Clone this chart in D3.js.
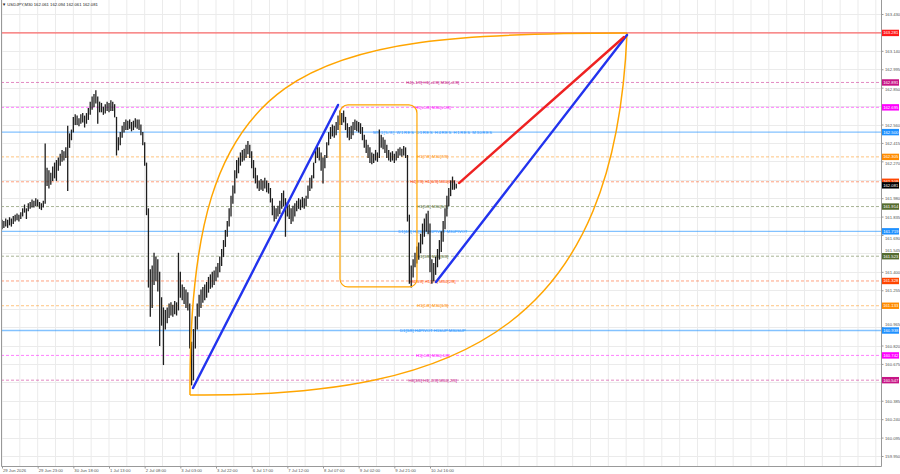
<!DOCTYPE html>
<html lang="en">
  <head>
    <meta charset="utf-8" />
    <script src="https://d3js.org/d3.v7.min.js" charset="utf-8"></script>
    <style>
      body {
        margin: 0;
        background: #fff;
      }
      svg {
        display: block;
        font-family: 'Liberation Sans', 'DejaVu Sans', sans-serif;
      }
      .axis text {
        font-size: 4.2px;
        fill: #555;
      }
      .axis path,
      .axis line {
        stroke: #999;
      }
      .lvl-text {
        font-size: 4.2px;
      }
    </style>
  </head>
  <body>
    <div id="chart"></div>
    <script>
      // ---- data ------------------------------------------------------

      var symbol = 'USDJPY,M30';
      var lastBar = [162.061, 162.094, 162.061, 162.081];

      // hourly high / low (bar k sits at M30 index 2k)
      var barHigh = [
        161.81, 161.8, 161.82, 161.81, 161.83, 161.82, 161.84, 161.85, 161.86, 161.85,
        161.87, 161.9, 161.93, 161.9, 161.94, 161.95, 161.97, 161.96, 161.98, 161.97,
        161.95, 161.94, 161.96, 162.41, 162.22, 162.2, 162.18, 162.23, 162.26, 162.28,
        162.3, 162.33, 162.36, 162.35, 162.38, 162.55, 162.49, 162.52, 162.62, 162.64,
        162.63, 162.61, 162.64, 162.65, 162.63, 162.65, 162.69, 162.74, 162.78, 162.8,
        162.83, 162.78, 162.74, 162.73, 162.7, 162.72, 162.74, 162.73, 162.75, 162.74,
        162.72, 162.62, 162.46, 162.5, 162.55, 162.58, 162.6, 162.59, 162.6, 162.58,
        162.59, 162.61, 162.6, 162.6, 162.56, 162.5, 162.42, 162.26, 161.9, 161.42,
        161.45, 161.55, 161.52, 161.5, 161.4, 161.2, 161.12, 161.1, 161.12, 161.15,
        161.16, 161.14, 161.17, 161.16, 161.55, 161.4, 161.3, 161.28, 161.26, 161.24,
        161.15, 160.85, 160.95, 161.05, 161.15, 161.22, 161.26, 161.28, 161.3, 161.32,
        161.36, 161.38, 161.4, 161.41, 161.44, 161.47, 161.52, 161.58, 161.65, 161.73,
        161.8, 161.9, 162.0, 162.08, 162.2, 162.28, 162.3, 162.34, 162.36, 162.37,
        162.4, 162.43, 162.4, 162.35, 162.28, 162.22, 162.16, 162.12, 162.13, 162.12,
        162.14, 162.12, 162.1, 162.06, 161.98, 161.92, 161.9, 161.92, 161.96, 162.02,
        162.04, 161.98, 161.95, 161.93, 161.9, 161.92, 161.94, 161.96, 161.98, 161.97,
        161.99, 161.98, 162.0, 162.08, 162.14, 162.16, 162.26, 162.36, 162.4, 162.38,
        162.34, 162.3, 162.32, 162.42, 162.5, 162.54, 162.56, 162.55, 162.58, 162.63,
        162.67, 162.65, 162.67, 162.62, 162.57, 162.54, 162.55, 162.58, 162.6, 162.59,
        162.58, 162.57, 162.54, 162.48, 162.44, 162.4, 162.38, 162.34, 162.33, 162.36,
        162.34, 162.52, 162.48, 162.46, 162.44, 162.4, 162.36, 162.34, 162.35, 162.33,
        162.35, 162.37, 162.38, 162.37, 162.39, 162.38, 162.32, 161.85, 161.45, 161.5,
        161.55, 161.6, 161.63, 161.7, 161.78, 161.82, 161.86, 161.88, 161.78, 161.5,
        161.47, 161.52, 161.58, 161.65, 161.72, 161.8, 161.9, 162.0, 162.06, 162.12,
        162.15, 162.12, 162.094
      ];
      var barLow = [
        161.74, 161.75, 161.76, 161.75, 161.77, 161.76, 161.78, 161.8, 161.81, 161.8,
        161.82, 161.84, 161.87, 161.82, 161.88, 161.9, 161.91, 161.91, 161.92, 161.92,
        161.9, 161.89, 161.91, 161.94, 162.08, 162.06, 162.09, 162.12, 162.14, 162.12,
        162.2, 162.24, 162.27, 162.28, 162.3, 162.04, 162.38, 162.44, 162.5, 162.56,
        162.56, 162.55, 162.57, 162.58, 162.54, 162.57, 162.6, 162.64, 162.68, 162.7,
        162.73, 162.57, 162.66, 162.66, 162.64, 162.65, 162.67, 162.66, 162.67, 162.67,
        162.62, 162.32, 162.36, 162.4, 162.46, 162.5, 162.52, 162.52, 162.53, 162.51,
        162.52, 162.54, 162.53, 162.52, 162.48, 162.4, 162.24, 161.85, 161.28, 161.05,
        161.12, 161.3, 161.33, 161.25, 160.82, 160.98, 160.67, 160.95, 161.0, 161.04,
        161.06, 161.05, 161.07, 161.06, 161.1, 161.2, 161.18, 161.15, 161.12, 161.1,
        160.8, 160.51, 160.55, 160.8, 160.95, 161.05, 161.12, 161.16, 161.18, 161.2,
        161.24, 161.27, 161.28, 161.3, 161.33, 161.36, 161.4, 161.45, 161.52, 161.6,
        161.68, 161.76, 161.84, 161.94, 162.02, 162.14, 162.18, 162.24, 162.27, 162.28,
        162.3, 162.33, 162.3, 162.22, 162.14, 162.1, 162.06, 162.04, 162.05, 162.04,
        162.06, 162.03, 162.02, 161.95, 161.85, 161.8, 161.82, 161.84, 161.86, 161.9,
        161.92, 161.68, 161.84, 161.82, 161.78, 161.8, 161.84, 161.88, 161.9, 161.89,
        161.91, 161.9, 161.92, 161.98, 162.04, 162.06, 162.14, 162.26, 162.3, 162.28,
        162.2, 162.1, 162.22, 162.3, 162.4, 162.45, 162.47, 162.46, 162.48, 162.52,
        162.56, 162.56, 162.58, 162.52, 162.46, 162.44, 162.45, 162.48, 162.52, 162.51,
        162.5, 162.49, 162.44, 162.38, 162.34, 162.3, 162.26, 162.25, 162.26, 162.28,
        162.27, 162.3, 162.38, 162.37, 162.34, 162.3, 162.28, 162.27, 162.28, 162.26,
        162.28, 162.3, 162.32, 162.31, 162.32, 162.3, 161.8, 161.31, 161.28, 161.36,
        161.44, 161.47, 161.5, 161.55, 161.62, 161.68, 161.72, 161.7, 161.4, 161.31,
        161.33, 161.38, 161.44, 161.5, 161.56, 161.64, 161.74, 161.84, 161.92, 162.0,
        162.05, 162.05, 162.061
      ];

      // time axis: one label every 38 M30 bars
      var timeLabels = [
        '29 Jun 2026', '29 Jun 23:00', '30 Jun 18:00', '1 Jul 13:00', '2 Jul 08:00',
        '3 Jul 03:00', '3 Jul 22:00', '6 Jul 17:00', '7 Jul 12:00', '8 Jul 07:00',
        '9 Jul 02:00', '9 Jul 21:00', '10 Jul 16:00'
      ];
      var timeIndex = [0, 38, 76, 114, 152, 190, 228, 266, 304, 342, 380, 418, 456];

      var priceTicks = [
        163.43, 163.14, 162.995, 162.85, 162.56, 162.415, 162.27, 161.98, 161.835,
        161.69, 161.545, 161.4, 161.255, 160.965, 160.82, 160.675, 160.385, 160.24,
        160.095, 159.95
      ];
      // grid rows hidden under the coloured tags
      var hiddenTicks = [163.285, 162.705, 162.125, 161.11, 160.53];

      // murrey math levels
      var mmLevels = [
        162.891, 162.695, 162.5, 162.305, 162.109, 161.914, 161.719, 161.523, 161.328,
        161.133, 160.938, 160.742, 160.547
      ];
      var mmLabels = [
        'H4[+1/8] H1[+2/8] M30[+2/8]',
        'H1[+1/8] M30[+1/8]',
        'MN1[5/8] W1RES D1RES H4RES H1RES M30RES',
        'H1[7/8] M30[7/8]',
        'H4[7/8] H1[6/8] M30[6/8]',
        'H1[5/8] M30[5/8]',
        'D1[4/8] H4[6/8] H1PIVOT M30PIVOT',
        'H1[3/8] M30[3/8]',
        'H4[5/8] H1[2/8] M30[2/8]',
        'H1[1/8] M30[1/8]',
        'D1[3/8] H4PIVOT H1SUP M30SUP',
        'H1[-1/8] M30[-1/8]',
        'H4[3/8] H1[-2/8] M30[-2/8]'
      ];
      var targetLevel = 163.281;

      // hand drawn objects, in (M30 bar index, price)
      var trendLines = [
        { name: 'up1', i0: 203.5, p0: 160.485, i1: 358, p1: 162.714 },
        { name: 'up2', i0: 462.4, p0: 161.32, i1: 665.9, p1: 163.265 },
        { name: 'target', i0: 486.9, p0: 162.099, i1: 662.7, p1: 163.249 }
      ];
      var boxRange = { i0: 360.1, i1: 442.1, p0: 162.714, p1: 161.281 };
      var leafTop = [[200.3, 160.43], [198.2, 163.068], [317.5, 163.28], [665.9, 163.28]];
      var leafBottom = [[200.3, 160.43], [498.6, 160.407], [653.1, 161.021], [665.9, 163.28]];

      // ---- styles ----------------------------------------------------

      var mmColors = [
        '#c71585', '#ff00ff', '#1e90ff', '#ff8c00', '#ff4500', '#556b2f', '#1e90ff',
        '#556b2f', '#ff4500', '#ff8c00', '#1e90ff', '#ff00ff', '#c71585'
      ];
      var mmSolid = [false, false, true, false, false, false, true, false, false, false, true, false, false];
      var lineColors = { up1: '#2233ee', up2: '#2233ee', target: '#ee2222' };

      var W = 900,
        H = 474,
        plotRight = 881,
        plotBottom = 466;

      // ---- scales ----------------------------------------------------

      var x = d3.scaleLinear().domain([0, 456]).range([2, 430]);
      var y = d3.scaleLinear().domain([159.95, 163.43]).range([456, 14]);

      var svg = d3
        .select('#chart')
        .append('svg')
        .attr('width', W)
        .attr('height', H);

      svg
        .append('clipPath')
        .attr('id', 'plot-clip')
        .append('rect')
        .attr('x', 1)
        .attr('y', 0)
        .attr('width', plotRight - 1)
        .attr('height', plotBottom);

      var plot = svg.append('g').attr('clip-path', 'url(#plot-clip)');

      // grid
      var gridIdx = d3.range(0, x.invert(plotRight), 19);
      plot
        .append('g')
        .selectAll('line')
        .data(gridIdx)
        .join('line')
        .attr('x1', (d) => x(d))
        .attr('x2', (d) => x(d))
        .attr('y1', 0)
        .attr('y2', plotBottom)
        .attr('stroke', '#ebebeb');

      plot
        .append('g')
        .selectAll('line')
        .data(priceTicks.concat(hiddenTicks))
        .join('line')
        .attr('x1', 1)
        .attr('x2', plotRight)
        .attr('y1', (d) => Math.round(y(d)) + 0.5)
        .attr('y2', (d) => Math.round(y(d)) + 0.5)
        .attr('stroke', '#ebebeb');

      // murrey lines
      plot
        .append('g')
        .selectAll('line')
        .data(mmLevels)
        .join('line')
        .attr('x1', 1)
        .attr('x2', plotRight)
        .attr('y1', (d) => y(d))
        .attr('y2', (d) => y(d))
        .attr('stroke', (d, i) => mmColors[i])
        .attr('stroke-opacity', (d, i) => (mmSolid[i] ? 0.55 : 0.5))
        .attr('stroke-width', (d, i) => (mmSolid[i] ? 1.3 : 1))
        .attr('stroke-dasharray', (d, i) => (mmSolid[i] ? null : '3,2'));

      plot
        .append('line')
        .attr('x1', 1)
        .attr('x2', plotRight)
        .attr('y1', y(targetLevel))
        .attr('y2', y(targetLevel))
        .attr('stroke', '#ff3030')
        .attr('stroke-opacity', 0.5)
        .attr('stroke-width', 1.6);

      // level captions
      plot
        .append('g')
        .selectAll('text')
        .data(mmLevels)
        .join('text')
        .attr('class', 'lvl-text')
        .attr('x', x(459))
        .attr('y', (d) => y(d) + 1.6)
        .attr('text-anchor', 'middle')
        .attr('letter-spacing', (d, i) => (mmLabels[i].length > 35 ? 0.6 : 0))
        .attr('fill', (d, i) => mmColors[i])
        .text((d, i) => mmLabels[i]);

      // price bars
      plot
        .append('g')
        .selectAll('line')
        .data(barHigh)
        .join('line')
        .attr('x1', (d, k) => x(2 * k))
        .attr('x2', (d, k) => x(2 * k))
        .attr('y1', (d) => y(d))
        .attr('y2', (d, k) => y(barLow[k]) + 0.5)
        .attr('stroke', '#1e1e1e')
        .attr('stroke-width', 1.3);

      // orange box and leaf
      plot
        .append('rect')
        .attr('x', x(boxRange.i0))
        .attr('y', y(boxRange.p0))
        .attr('width', x(boxRange.i1) - x(boxRange.i0))
        .attr('height', y(boxRange.p1) - y(boxRange.p0))
        .attr('rx', 8)
        .attr('fill', 'none')
        .attr('stroke', '#ffa500')
        .attr('stroke-width', 1.2);

      function bezier(pts) {
        var p = d3.path();
        p.moveTo(x(pts[0][0]), y(pts[0][1]));
        p.bezierCurveTo(
          x(pts[1][0]), y(pts[1][1]),
          x(pts[2][0]), y(pts[2][1]),
          x(pts[3][0]), y(pts[3][1])
        );
        return p.toString();
      }

      [leafTop, leafBottom].forEach(function (pts) {
        plot
          .append('path')
          .attr('d', bezier(pts))
          .attr('fill', 'none')
          .attr('stroke', '#ffa500')
          .attr('stroke-width', 1.5);
      });

      // trend lines
      plot
        .append('g')
        .selectAll('line')
        .data(trendLines)
        .join('line')
        .attr('x1', (d) => x(d.i0))
        .attr('y1', (d) => y(d.p0))
        .attr('x2', (d) => x(d.i1))
        .attr('y2', (d) => y(d.p1))
        .attr('stroke', (d) => lineColors[d.name])
        .attr('stroke-width', 2.4)
        .attr('stroke-linecap', 'round');

      // frame
      svg
        .append('path')
        .attr('d', 'M1.5,0V' + (plotBottom + 0.5) + 'H' + (plotRight + 0.5) + 'V0')
        .attr('fill', 'none')
        .attr('stroke', '#999');

      // ---- axes ------------------------------------------------------

      var tags = mmLevels.map((d, i) => ({ p: d, c: mmColors[i] }));
      tags.unshift({ p: targetLevel, c: '#ff1a1a' });
      tags.push({ p: lastBar[3], c: '#000' });

      var yAxis = svg
        .append('g')
        .attr('class', 'axis')
        .attr('transform', 'translate(' + (plotRight + 0.5) + ',0)')
        .call(
          d3.axisRight(y).tickValues(priceTicks).tickFormat(d3.format('.3f')).tickSize(2).tickPadding(1.5)
        );
      yAxis.select('.domain').remove();

      // nudge price labels that sit too close to a tag
      yAxis.selectAll('.tick text').attr('dy', function (d) {
        var shift = 0;
        tags.forEach(function (t) {
          var gap = y(d) - y(t.p);
          if (Math.abs(gap) < 6.4) shift = (gap < 0 ? -1 : 1) * (6.4 - Math.abs(gap));
        });
        return 1.5 + shift + 'px';
      });

      var xAxis = svg
        .append('g')
        .attr('class', 'axis')
        .attr('transform', 'translate(0,' + (plotBottom + 0.5) + ')')
        .call(
          d3
            .axisBottom(x)
            .tickValues(timeIndex)
            .tickFormat((d, i) => timeLabels[i])
            .tickSize(2)
            .tickPadding(1)
        );
      xAxis.select('.domain').remove();
      xAxis.selectAll('text').attr('text-anchor', 'start').attr('dx', 0.5);

      // coloured price tags on the right
      var tag = svg
        .append('g')
        .selectAll('g')
        .data(tags)
        .join('g')
        .attr('transform', (d) => 'translate(' + (plotRight + 1) + ',' + y(d.p) + ')');
      tag
        .append('rect')
        .attr('x', 0)
        .attr('y', -3.2)
        .attr('width', 17)
        .attr('height', 6.4)
        .attr('fill', (d) => d.c);
      tag
        .append('text')
        .attr('x', 1.2)
        .attr('y', 1.5)
        .attr('fill', '#fff')
        .style('font-size', '4.2px')
        .text((d) => d3.format('.3f')(d.p));

      // header
      svg
        .append('text')
        .attr('x', 2)
        .attr('y', 6)
        .style('font-size', '4.2px')
        .attr('fill', '#222')
        .text('\u25BC ' + symbol + '  ' + lastBar.map(d3.format('.3f')).join(' '));
    </script>
  </body>
</html>
